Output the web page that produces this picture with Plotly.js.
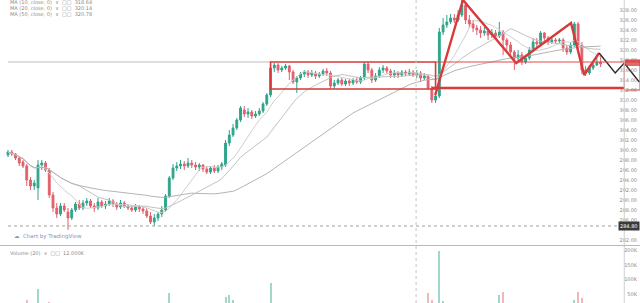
<!DOCTYPE html>
<html><head><meta charset="utf-8">
<script src="https://cdn.plot.ly/plotly-3.0.1.min.js"></script>
<style>html,body{margin:0;padding:0;background:#fff}#chart{width:640px;height:303px}</style>
</head><body><div id="chart"></div>
<script>
// ---- data ----
const openP = [299.0,299.6,299.2,298.4,297.6,296.8,294.0,292.8,292.4,297.0,
297.4,296.0,291.0,288.4,287.2,288.8,287.6,286.4,288.0,289.2,
288.4,289.4,289.8,288.8,288.4,289.6,288.8,289.2,289.8,289.2,
288.6,289.4,288.8,288.4,288.0,288.6,288.2,287.8,286.8,285.6,
286.4,287.2,288.0,290.8,294.4,296.4,296.8,297.2,296.8,297.4,
297.0,296.6,297.0,296.2,295.6,296.4,295.8,296.6,297.0,301.4,
303.0,304.4,306.0,308.0,307.2,307.6,306.8,307.2,307.8,309.2,
311.0,316.4,317.0,316.0,316.4,316.8,315.6,313.6,314.4,315.2,
315.6,315.0,315.4,314.8,315.2,315.8,315.4,312.8,313.4,314.0,
313.2,313.8,313.4,314.0,313.6,314.4,317.2,316.0,314.0,314.8,
316.0,316.4,315.8,315.0,315.4,315.0,315.6,315.2,315.6,315.0,
315.4,314.4,314.8,312.4,310.0,310.8,323.6,325.0,325.6,326.4,
326.0,327.0,329.0,326.0,325.2,324.4,324.0,323.4,323.8,323.0,
323.4,322.8,323.6,322.0,321.0,319.6,318.4,319.0,317.6,318.4,
320.0,321.6,321.2,323.4,322.4,321.6,322.0,321.8,322.0,320.4,
319.6,321.0,325.2,321.0,316.0,315.4,316.4,317.0,317.6];
const highP = [300.0,300.0,299.4,298.8,298.0,297.2,294.6,294.0,298.0,298.0,
297.8,296.4,291.6,289.4,289.4,289.4,288.4,288.4,289.6,290.0,
290.0,290.4,290.2,289.4,290.4,290.0,289.8,290.4,290.2,289.6,
290.0,289.8,289.2,289.0,289.2,289.0,288.6,288.4,287.6,287.2,
287.6,288.8,291.2,294.8,297.2,297.6,298.0,297.8,298.4,298.0,
297.6,297.4,297.2,296.8,296.8,297.0,297.0,297.6,302.0,304.0,
305.2,306.4,308.8,308.8,308.4,308.0,307.8,308.4,309.6,311.4,
317.4,317.4,317.4,316.8,317.2,317.0,316.0,314.8,315.6,316.0,
316.0,316.0,315.8,315.6,316.2,316.4,315.8,314.0,314.4,314.4,
314.2,314.2,314.4,314.6,314.8,317.6,317.6,316.4,315.4,316.6,
317.0,316.8,316.2,316.0,315.8,316.0,316.0,316.2,316.0,316.0,
315.8,315.4,315.0,312.8,311.4,324.4,326.4,327.0,327.2,327.2,
328.0,330.0,329.6,327.0,326.0,325.0,324.8,324.6,324.4,324.2,
324.0,325.6,324.0,322.4,321.6,320.0,320.0,319.6,319.0,320.6,
322.4,322.4,323.8,323.6,322.8,322.4,322.4,322.4,322.4,321.0,
321.6,325.6,325.6,321.6,316.8,317.0,317.6,318.4,318.8];
const lowP = [298.6,298.8,298.0,296.8,296.4,292.8,292.0,292.0,290.0,296.0,
295.6,290.4,287.6,286.4,286.8,287.6,284.0,286.0,287.6,288.0,
288.0,288.8,288.4,287.6,288.0,288.4,288.2,288.8,288.6,288.0,
288.2,288.4,288.0,287.6,287.6,287.6,287.2,286.4,285.2,284.8,
285.8,286.6,287.6,290.4,294.0,295.8,296.2,296.0,296.4,296.4,
296.0,295.8,295.6,295.2,295.2,295.4,295.4,296.0,296.6,300.8,
302.6,304.0,305.6,306.6,306.4,306.2,306.4,306.8,307.4,308.8,
310.6,315.6,315.4,315.6,316.0,314.0,313.2,311.4,314.0,314.6,
314.4,314.6,314.2,314.4,314.8,314.8,312.2,312.2,313.0,312.8,
312.8,312.8,313.0,313.2,313.2,314.0,315.4,313.4,313.6,314.4,
315.4,315.2,314.4,314.4,314.4,314.6,314.8,314.8,314.6,314.4,
313.6,314.0,312.0,309.4,309.4,310.4,323.0,324.4,325.2,325.4,
325.6,326.6,325.2,324.4,323.6,323.0,322.4,322.8,322.0,322.4,
322.0,322.4,319.0,320.0,318.8,316.0,317.4,317.0,317.2,318.0,
319.6,320.6,320.8,321.8,321.0,321.2,321.2,321.4,319.6,319.0,
319.2,320.6,320.0,315.2,314.8,315.0,316.0,316.8,316.6];
const closeP = [299.6,299.2,298.4,297.4,296.8,294.0,292.8,293.4,297.0,297.4,
296.0,291.0,288.4,287.2,288.8,288.0,286.4,288.0,289.2,288.4,
289.4,289.8,288.8,288.4,289.6,288.8,289.2,289.8,289.2,288.6,
289.4,288.8,288.4,288.0,288.6,288.2,287.8,286.8,285.6,286.4,
287.2,288.0,290.8,294.4,296.4,296.8,297.2,296.8,297.4,297.0,
296.6,297.0,296.2,295.6,296.4,295.8,296.6,297.2,301.4,303.0,
304.4,306.0,308.4,307.2,307.6,306.8,307.2,307.8,309.2,311.0,
316.4,317.0,316.0,316.4,316.8,315.6,313.6,314.4,315.2,315.6,
315.0,315.4,314.8,315.2,315.8,315.4,312.8,313.4,314.0,313.2,
313.8,313.4,314.0,313.6,314.4,317.2,316.0,314.0,314.8,316.0,
316.4,315.8,315.0,315.4,315.0,315.6,315.2,315.6,315.0,315.4,
314.4,314.8,312.4,310.0,310.8,323.6,325.0,325.6,326.4,326.0,
327.0,329.0,326.0,325.2,324.4,324.0,323.4,323.8,323.0,323.4,
322.8,323.6,322.0,321.0,319.6,318.4,319.0,317.6,318.4,320.0,
321.6,321.2,323.4,322.4,321.6,322.0,321.8,322.0,320.4,319.6,
321.0,325.2,321.0,316.0,315.4,316.4,317.0,317.6,317.2];
const volume = [14000,12000,13000,15000,16000,29000,17000,15000,67000,14000,
13000,22000,16000,12000,11000,10000,14000,9000,10000,8000,
9000,8000,10000,9000,8000,9000,7000,8000,9000,10000,
8000,9000,8000,9000,7000,8000,10000,12000,15000,13000,
12000,16000,18000,53000,17000,12000,10000,9000,11000,9000,
8000,9000,10000,11000,9000,10000,12000,15000,40000,47000,
30000,16000,18000,14000,12000,10000,11000,12000,14000,17000,
88000,16000,12000,10000,9000,12000,15000,13000,10000,9000,
8000,9000,8000,9000,8000,9000,14000,12000,9000,8000,
9000,8000,9000,8000,9000,16000,14000,12000,10000,9000,
8000,9000,10000,9000,8000,9000,8000,9000,10000,9000,
11000,10000,53000,30000,18000,198000,25000,17000,15000,14000,
16000,18000,17000,14000,12000,11000,12000,10000,12000,11000,
14000,47000,57000,16000,15000,17000,13000,12000,10000,12000,
15000,12000,17000,12000,11000,10000,11000,10000,16000,14000,
12000,30000,57000,35000,16000,13000,12000,11000,12000];

// drawings (bar index, price)
const zigzagX = [113.9,121.3,135.5,150.1,153.6,157.6];
const zigzagY = [311.0,330.0,317.4,325.4,315.0,319.4];
const projX = [157.6,161.9,164.3,168.3];
const projY = [319.4,315.4,317.4,313.6];
const boxStart = 70, boxEnd = 114, boxTop = 317.6, boxBottom = 312.2;
const supportLevel = 312.4, supportStart = 113;
const markedPrice = 284.8;
const dividerBar = 108.8;
const priceTickVals = [282,286,288,290,292,294,296,298,300,302,304,306,308,310,312,314,316,318,320,322,324,326,328,330];
const volTickVals = [50000,100000,150000,200000];
const volTickText = ['50K','100K','150K','200K'];
const maPeriods = [10,20,50];

// ---- layout helpers ----
const xLeft = -2.13, xRight = 168.5, axisEdge = 164.3;
const bars = closeP.map((_, i) => i);
function sma(arr, n){ return arr.map((_, i) => { const s = Math.max(0, i-n+1); let t=0; for(let k=s;k<=i;k++) t+=arr[k]; return t/(i-s+1); }); }
const mas = maPeriods.map(n => sma(closeP, n));
const UP = '#2ea58a', DN = '#e2606c';
const volColors = closeP.map((c,i) => c >= openP[i] ? 'rgba(46,165,138,0.45)' : 'rgba(226,96,108,0.45)');
const maColors = ['#cfcfcf','#c2c2c2','#b4b4b4'];

const traces = [
  {type:'candlestick', x:bars, open:openP, high:highP, low:lowP, close:closeP, xaxis:'x', yaxis:'y',
   increasing:{line:{color:UP,width:1},fillcolor:UP}, decreasing:{line:{color:DN,width:1},fillcolor:DN},
   whiskerwidth:0, hoverinfo:'skip', showlegend:false},
];
mas.forEach((m,k) => traces.push({type:'scatter', mode:'lines', x:bars, y:m, xaxis:'x', yaxis:'y',
  line:{color:maColors[k], width:1}, hoverinfo:'skip', showlegend:false}));
traces.push({type:'bar', x:bars, y:volume, xaxis:'x', yaxis:'y2', marker:{color:volColors}, width:0.55, hoverinfo:'skip', showlegend:false});
traces.push({type:'scatter', mode:'lines', x:zigzagX, y:zigzagY, xaxis:'x', yaxis:'y', line:{color:'#d63a3a', width:2.4}, showlegend:false});
traces.push({type:'scatter', mode:'lines', x:projX, y:projY, xaxis:'x', yaxis:'y', line:{color:'#2a2a2a', width:1.4}, showlegend:false});

const mainBottom = 1 - 245/303, volTop = 1 - 246/303;
const shapes = [
  {type:'line', xref:'x', yref:'y', x0:0, x1:boxStart, y0:boxTop, y1:boxTop, line:{color:'#bdbdbd', width:1}},
  {type:'rect', xref:'x', yref:'y', x0:boxStart, x1:boxEnd, y0:boxBottom, y1:boxTop, line:{color:'#d63a3a', width:1.6}},
  {type:'line', xref:'x', yref:'y', x0:boxEnd, x1:xRight, y0:boxTop, y1:boxTop, line:{color:'#e04848', width:1.2}},
  {type:'line', xref:'x', yref:'y', x0:supportStart, x1:axisEdge, y0:supportLevel, y1:supportLevel, line:{color:'#d63a3a', width:2.6}},
  {type:'rect', xref:'x', yref:'y', x0:axisEdge, x1:xRight, y0:boxBottom-0.2, y1:boxTop+0.4, line:{color:'#d63a3a', width:1}},
  {type:'rect', xref:'x', yref:'y', x0:axisEdge, x1:xRight, y0:boxTop-0.8, y1:boxTop+0.4, line:{width:0}, fillcolor:'rgba(214,58,58,0.75)'},
  {type:'line', xref:'x', yref:'y', x0:0, x1:axisEdge, y0:markedPrice, y1:markedPrice, line:{color:'#a0a0a0', width:1, dash:'dot'}},
  {type:'line', xref:'x', yref:'paper', x0:dividerBar, x1:dividerBar, y0:0, y1:1, line:{color:'#c4c4c4', width:1, dash:'dot'}},
  {type:'line', xref:'x', yref:'paper', x0:axisEdge, x1:axisEdge, y0:0, y1:1, line:{color:'#d0d0d0', width:1}},
  {type:'line', xref:'paper', yref:'paper', x0:0, x1:1, y0:(mainBottom+volTop)/2, y1:(mainBottom+volTop)/2, line:{color:'#b8b8b8', width:1}},
];

const py = p => 1 - p/303;
const txt = '#8a8a8a';
const last = a => a[a.length-1];
const fmtK = v => (v/1000).toFixed(3)+'K';
const legendFont = {size:5, color:txt, family:'DejaVu Sans'};
const annotations = [
  {text:'MA ('+maPeriods[0]+', close, 0)  \u2228  \u25A1\u25A1  '+last(mas[0]).toFixed(2), x:8/640, y:py(2.2), xref:'paper', yref:'paper', xanchor:'left', yanchor:'middle', showarrow:false, font:legendFont},
  {text:'MA ('+maPeriods[1]+', close, 0)  \u2228  \u25A1\u25A1  '+last(mas[1]).toFixed(2), x:8/640, y:py(8), xref:'paper', yref:'paper', xanchor:'left', yanchor:'middle', showarrow:false, font:legendFont},
  {text:'MA ('+maPeriods[2]+', close, 0)  \u2228  \u25A1\u25A1  '+last(mas[2]).toFixed(2), x:8/640, y:py(14), xref:'paper', yref:'paper', xanchor:'left', yanchor:'middle', showarrow:false, font:legendFont},
  {text:'\u2601  Chart by TradingView', x:12/640, y:py(236), xref:'paper', yref:'paper', xanchor:'left', yanchor:'middle', showarrow:false, font:{size:5.5, color:'#8196bd', family:'DejaVu Sans'}},
  {text:'Volume (20)  \u2228  \u25A1\u25A1  '+fmtK(last(volume)), x:8/640, y:py(252.5), xref:'paper', yref:'paper', xanchor:'left', yanchor:'middle', showarrow:false, font:legendFont},
  {text:markedPrice.toFixed(2), x:1, y:markedPrice, xref:'paper', yref:'y', xanchor:'right', yanchor:'middle', showarrow:false, bgcolor:'#3a3a3a', font:{size:5, color:'#ffffff', family:'DejaVu Sans'}, borderpad:1},
];

const layout = {
  width:640, height:303, margin:{l:0,r:0,t:0,b:0}, paper_bgcolor:'#fff', plot_bgcolor:'#fff',
  showlegend:false, hovermode:false, bargap:0,
  xaxis:{range:[xLeft, xRight], showticklabels:false, showgrid:false, zeroline:false, showline:false, ticks:'', rangeslider:{visible:false}, fixedrange:true},
  yaxis:{domain:[mainBottom,1], range:[281,330], side:'right', ticklabelposition:'inside', tickvals:priceTickVals,
    ticktext:priceTickVals.map(v=>v.toFixed(2)), showgrid:false, zeroline:false, showline:false, ticks:'', tickfont:{size:5, color:'#8a8a8a', family:'DejaVu Sans'}, anchor:'x'},
  yaxis2:{domain:[0,volTop], range:[19000,215500], side:'right', ticklabelposition:'inside', tickvals:volTickVals, ticktext:volTickText,
    showgrid:false, zeroline:false, showline:false, ticks:'', tickfont:{size:5, color:'#8a8a8a', family:'DejaVu Sans'}, anchor:'x'},
  shapes:shapes, annotations:annotations
};
Plotly.newPlot('chart', traces, layout, {staticPlot:true, displayModeBar:false});
</script></body></html>
